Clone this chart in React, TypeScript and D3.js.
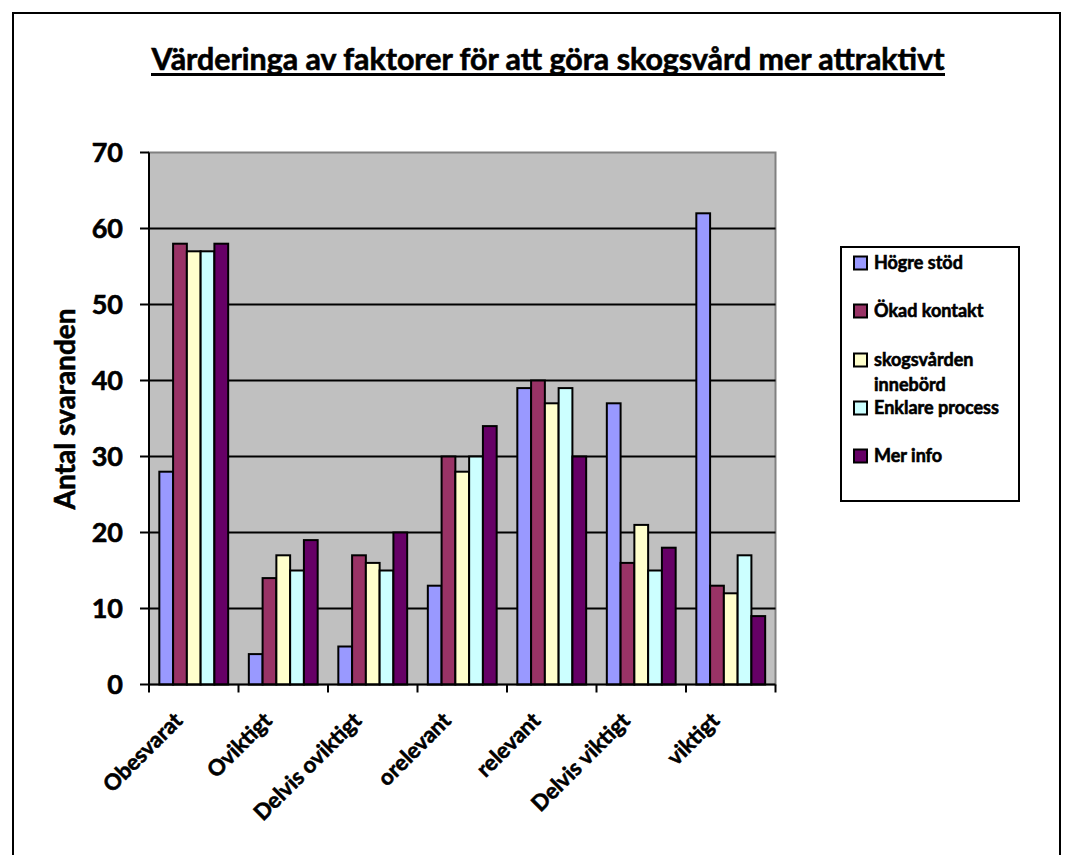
import React from "react";
import * as d3 from "d3";

const categories = ["Obesvarat", "Oviktigt", "Delvis oviktigt", "orelevant", "relevant", "Delvis viktigt", "viktigt"];
const seriesNames = ["Högre stöd", "Ökad kontakt", "skogsvården innebörd", "Enklare process", "Mer info"];
const hogreStod = [28, 4, 5, 13, 39, 37, 62];
const okadKontakt = [58, 14, 17, 30, 40, 16, 13];
const skogsvarden = [57, 17, 16, 28, 37, 21, 12];
const enklareProcess = [57, 15, 15, 30, 39, 15, 17];
const merInfo = [58, 19, 20, 34, 30, 18, 9];
const seriesColors = ["#9999FF", "#993366", "#FFFFCC", "#CCFFFF", "#660066"];
const yTicks = [0, 10, 20, 30, 40, 50, 60, 70];
const legendLines = [["Högre stöd"], ["Ökad kontakt"], ["skogsvården", "innebörd"], ["Enklare process"], ["Mer info"]];

const FONT = "Lato, 'Open Sans', sans-serif";
const heavy = { stroke: "#000", strokeWidth: 0.6, paintOrder: "stroke" } as any;

export default function App() {
  const seriesValues = [hogreStod, okadKontakt, skogsvarden, enklareProcess, merInfo];
  const left = 149, right = 775.5, top = 152.5, bottom = 684.5;
  const x0 = d3.scaleBand<string>().domain(categories).range([left, right]).paddingInner(0).paddingOuter(0);
  const x1 = d3.scaleBand<string>().domain(seriesNames).range([0, x0.bandwidth()]).paddingInner(0).paddingOuter(0.75);
  const y = d3.scaleLinear().domain([0, 70]).range([bottom, top]);

  const legendY = [263, 311, 360, 408, 456];

  return (
    <svg width={1073} height={855} style={{ position: "absolute", left: 0, top: 0, background: "#fff" }} fontFamily={FONT}>
      <rect x={13} y={13} width={1047} height={860} fill="#fff" stroke="#000" strokeWidth={2} />
      {/* title */}
      <text x={548} y={70} textAnchor="middle" fontSize={30} fontWeight="bold" textLength={793} lengthAdjust="spacingAndGlyphs" {...heavy}>
        Värderinga av faktorer för att göra skogsvård mer attraktivt
      </text>
      <line x1={151} x2={945} y1={74.5} y2={74.5} stroke="#000" strokeWidth={3} />
      {/* plot area */}
      <rect x={left} y={top} width={right - left} height={bottom - top} fill="#C0C0C0" stroke="#808080" strokeWidth={2} />
      {yTicks.filter((t) => t > 0 && t < 70).map((t) => (
        <line key={t} x1={left} x2={right} y1={y(t)} y2={y(t)} stroke="#000" strokeWidth={2} />
      ))}
      {/* bars */}
      {seriesValues.map((vals, si) =>
        vals.map((v, ci) => (
          <rect
            key={`${si}-${ci}`}
            x={(x0(categories[ci]) as number) + (x1(seriesNames[si]) as number)}
            y={y(v)}
            width={x1.bandwidth()}
            height={y(0) - y(v)}
            fill={seriesColors[si]}
            stroke="#000"
            strokeWidth={2}
          />
        ))
      )}
      {/* axes */}
      <line x1={left} x2={left} y1={top} y2={bottom} stroke="#000" strokeWidth={2} />
      <line x1={left} x2={right} y1={bottom} y2={bottom} stroke="#000" strokeWidth={2} />
      {yTicks.map((t) => (
        <g key={t}>
          <line x1={left - 9} x2={left} y1={y(t)} y2={y(t)} stroke="#000" strokeWidth={2} />
          <text x={123} y={y(t)} dy="0.36em" textAnchor="end" fontSize={27} fontWeight="bold" {...heavy}>
            {t}
          </text>
        </g>
      ))}
      {categories.map((c, i) => (
        <line key={"t" + i} x1={x0(c) as number} x2={x0(c) as number} y1={bottom} y2={bottom + 8} stroke="#000" strokeWidth={2} />
      ))}
      <line x1={right} x2={right} y1={bottom} y2={bottom + 8} stroke="#000" strokeWidth={2} />
      {categories.map((c) => {
        const cx = (x0(c) as number) + x0.bandwidth() / 2;
        return (
          <text key={c} transform={`translate(${cx - 10},${722}) rotate(-45)`} textAnchor="end" fontSize={22} fontWeight="bold" {...heavy}>
            {c}
          </text>
        );
      })}
      {/* y axis title */}
      <text transform={`translate(75,409) rotate(-90)`} textAnchor="middle" fontSize={28} fontWeight="bold" {...heavy}>
        Antal svaranden
      </text>
      {/* legend */}
      <rect x={841} y={247} width={178} height={254} fill="#fff" stroke="#000" strokeWidth={2} />
      {legendLines.map((lines, i) => (
        <g key={i}>
          <rect x={854} y={legendY[i] - 6.5} width={13} height={13} fill={seriesColors[i]} stroke="#000" strokeWidth={2} />
          {lines.map((ln, j) => (
            <text key={j} x={874} y={legendY[i] + j * 25} dy="0.36em" fontSize={18} fontWeight="bold" {...heavy}>
              {ln}
            </text>
          ))}
        </g>
      ))}
    </svg>
  );
}
